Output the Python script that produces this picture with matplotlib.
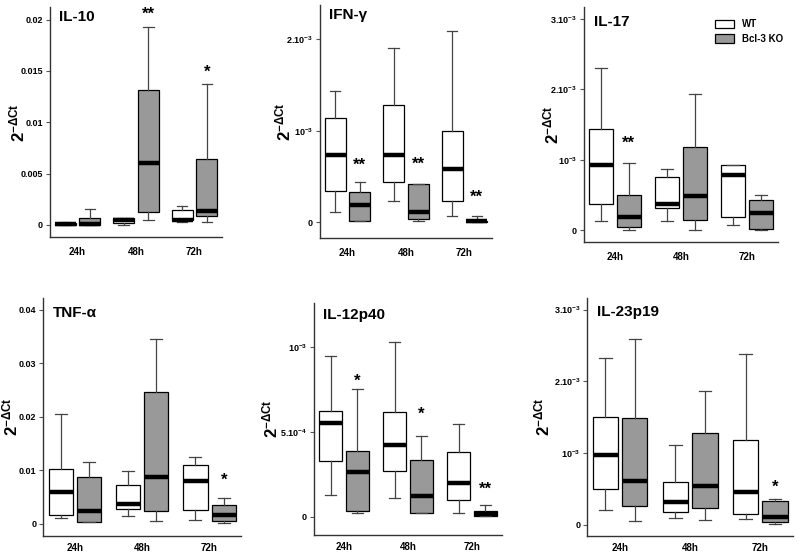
import matplotlib
matplotlib.use("Agg")
import matplotlib.pyplot as plt
from matplotlib.patches import Patch

plt.rcParams['font.family'] = ['Liberation Sans', 'DejaVu Sans']
plt.rcParams['font.weight'] = 'bold'
plt.rcParams['mathtext.fontset'] = 'custom'
plt.rcParams['mathtext.rm'] = 'Liberation Sans:bold'
plt.rcParams['mathtext.bf'] = 'Liberation Sans:bold'
plt.rcParams['mathtext.it'] = 'Liberation Sans:bold'

TIMES = ["24h", "48h", "72h"]
GROUPS = ["WT", "Bcl-3 KO"]

# each box: [whisker low, q1, median, q3, whisker high]
il10_wt = [[0.0, 0.00002, 0.0001, 0.0002, 0.0003],
           [0.0, 0.0002, 0.0005, 0.00065, 0.0007],
           [0.00026, 0.0005, 0.0005, 0.00146, 0.00185]]
il10_ko = [[0.0, 0.00002, 0.0001, 0.0007, 0.00155],
           [0.0005, 0.00126, 0.006, 0.0131, 0.0193],
           [0.00026, 0.0009, 0.0013, 0.0064, 0.0137]]

ifng_wt = [[0.11e-3, 0.34e-3, 0.73e-3, 1.14e-3, 1.43e-3],
           [0.23e-3, 0.44e-3, 0.74e-3, 1.28e-3, 1.90e-3],
           [0.07e-3, 0.23e-3, 0.58e-3, 1.00e-3, 2.09e-3]]
ifng_ko = [[0.02e-3, 0.02e-3, 0.19e-3, 0.33e-3, 0.435e-3],
           [0.015e-3, 0.04e-3, 0.11e-3, 0.42e-3, 0.42e-3],
           [0.0, 0.0, 0.01e-3, 0.02e-3, 0.065e-3]]

il17_wt = [[0.126e-3, 0.37e-3, 0.925e-3, 1.44e-3, 2.30e-3],
           [0.13e-3, 0.31e-3, 0.37e-3, 0.75e-3, 0.865e-3],
           [0.065e-3, 0.18e-3, 0.785e-3, 0.92e-3, 0.92e-3]]
il17_ko = [[0.0, 0.04e-3, 0.19e-3, 0.50e-3, 0.96e-3],
           [0.0, 0.14e-3, 0.49e-3, 1.18e-3, 1.93e-3],
           [0.0, 0.01e-3, 0.24e-3, 0.43e-3, 0.495e-3]]

tnfa_wt = [[0.0011, 0.0016, 0.006, 0.0102, 0.0205],
           [0.0014, 0.0028, 0.0037, 0.0072, 0.0099],
           [0.0008, 0.0027, 0.008, 0.0111, 0.0125]]
tnfa_ko = [[0.0003, 0.0004, 0.0024, 0.0088, 0.0116],
           [0.0006, 0.0024, 0.0088, 0.0246, 0.0345],
           [0.0001, 0.0006, 0.0016, 0.0036, 0.0049]]

il12_wt = [[0.13e-3, 0.326e-3, 0.552e-3, 0.62e-3, 0.943e-3],
           [0.11e-3, 0.267e-3, 0.42e-3, 0.613e-3, 1.03e-3],
           [0.024e-3, 0.098e-3, 0.20e-3, 0.383e-3, 0.546e-3]]
il12_ko = [[0.024e-3, 0.033e-3, 0.265e-3, 0.387e-3, 0.75e-3],
           [0.02e-3, 0.024e-3, 0.122e-3, 0.332e-3, 0.477e-3],
           [0.002e-3, 0.004e-3, 0.014e-3, 0.033e-3, 0.071e-3]]

il23_wt = [[0.20e-3, 0.49e-3, 0.966e-3, 1.50e-3, 2.32e-3],
           [0.098e-3, 0.182e-3, 0.322e-3, 0.588e-3, 1.115e-3],
           [0.075e-3, 0.154e-3, 0.453e-3, 1.176e-3, 2.38e-3]]
il23_ko = [[0.047e-3, 0.266e-3, 0.602e-3, 1.48e-3, 2.59e-3],
           [0.06e-3, 0.233e-3, 0.537e-3, 1.274e-3, 1.862e-3],
           [0.005e-3, 0.042e-3, 0.107e-3, 0.327e-3, 0.36e-3]]

# significance marks: (time index, label, y)
il10_stars = [(1, "**", 0.0205), (2, "*", 0.0149)]
ifng_stars = [(0, "**", 0.62e-3), (1, "**", 0.63e-3), (2, "**", 0.27e-3)]
il17_stars = [(0, "**", 1.23e-3)]
tnfa_stars = [(2, "*", 0.0081)]
il12_stars = [(0, "*", 0.795e-3), (1, "*", 0.605e-3), (2, "**", 0.161e-3)]
il23_stars = [(2, "*", 0.527e-3)]

il10_ticks = [0, 0.005, 0.01, 0.015, 0.02]
il10_labels = ["0", "0.005", "0.01", "0.015", "0.02"]
ifng_ticks = [0, 1e-3, 2e-3]
ifng_labels = ["0", r"$10^{-3}$", r"$2.10^{-3}$"]
il17_ticks = [0, 1e-3, 2e-3, 3e-3]
il17_labels = ["0", r"$10^{-3}$", r"$2.10^{-3}$", r"$3.10^{-3}$"]
tnfa_ticks = [0, 0.01, 0.02, 0.03, 0.04]
tnfa_labels = ["0", "0.01", "0.02", "0.03", "0.04"]
il12_ticks = [0, 5e-4, 1e-3]
il12_labels = ["0", r"$5.10^{-4}$", r"$10^{-3}$"]
il23_ticks = [0, 1e-3, 2e-3, 3e-3]
il23_labels = ["0", r"$10^{-3}$", r"$2.10^{-3}$", r"$3.10^{-3}$"]

KO_GREY = "#999999"
OFF = 0.21
WIDTH = 0.36


def to_stats(rows):
    return [dict(whislo=r[0], q1=r[1], med=r[2], q3=r[3], whishi=r[4], fliers=[])
            for r in rows]


def draw_panel(ax, title, wt, ko, stars, ticks, labels, ylim,
               ylab_px=33, title_px=10, xpad=7):
    for rows, off, fc in [(wt, -OFF, "white"), (ko, OFF, KO_GREY)]:
        ax.bxp(to_stats(rows), positions=[i + off for i in range(3)], widths=WIDTH,
               patch_artist=True, showfliers=False, capwidths=WIDTH * 0.5,
               boxprops=dict(facecolor=fc, edgecolor="black", linewidth=0.9),
               whiskerprops=dict(color="#444444", linewidth=0.9),
               capprops=dict(color="#444444", linewidth=0.9),
               medianprops=dict(color="black", linewidth=3.2, solid_capstyle="butt"))
    for i, s, y in stars:
        ax.text(i + OFF, y, s, ha="center", va="center", fontsize=12, fontweight="bold")
    ax.set_xlim(-0.47, 2.47)
    ax.set_ylim(*ylim)
    ax.set_xticks(range(3))
    ax.set_xticklabels(TIMES, fontsize=7, fontweight="bold")
    ax.tick_params(axis="x", length=0, pad=xpad)
    ax.set_yticks(ticks)
    ax.set_yticklabels(labels, fontsize=6.5, fontweight="bold")
    ax.tick_params(axis="y", length=3, width=0.8, color="#555555", pad=2)
    for sp in ["top", "right"]:
        ax.spines[sp].set_visible(False)
    for sp in ["left", "bottom"]:
        ax.spines[sp].set_color("#333333")
        ax.spines[sp].set_linewidth(1.0)
    bb = ax.get_position()
    w_px = bb.width * 800
    h_px = bb.height * 558
    ax.set_ylabel(r"$2^{-\Delta Ct}$", fontsize=12, va="center")
    ax.yaxis.set_label_coords(-ylab_px / w_px, 0.5)
    ax.text(0.05, 1 - title_px / h_px, title, transform=ax.transAxes, fontsize=11,
            fontweight="bold", va="center", ha="left")


fig = plt.figure(figsize=(8, 5.58), dpi=100)
ax1 = fig.add_axes([0.0625, 0.575, 0.215, 0.412])
ax2 = fig.add_axes([0.40, 0.5735, 0.215, 0.4176])
ax3 = fig.add_axes([0.73, 0.5663, 0.2425, 0.4211])
ax4 = fig.add_axes([0.054, 0.0394, 0.2475, 0.4265])
ax5 = fig.add_axes([0.3925, 0.0412, 0.235, 0.4158])
ax6 = fig.add_axes([0.734, 0.0394, 0.2575, 0.4265])

draw_panel(ax1, "IL-10", il10_wt, il10_ko, il10_stars, il10_ticks, il10_labels,
           (-0.0012, 0.0212), ylab_px=33, title_px=10)
draw_panel(ax2, "IFN-γ", ifng_wt, ifng_ko, ifng_stars, ifng_ticks, ifng_labels,
           (-0.17e-3, 2.37e-3), ylab_px=37, title_px=10)
draw_panel(ax3, "IL-17", il17_wt, il17_ko, il17_stars, il17_ticks, il17_labels,
           (-0.17e-3, 3.17e-3), ylab_px=33, title_px=15)
draw_panel(ax4, "TNF-α", tnfa_wt, tnfa_ko, tnfa_stars, tnfa_ticks, tnfa_labels,
           (-0.00225, 0.0422), ylab_px=33, title_px=15, xpad=5)
draw_panel(ax5, "IL-12p40", il12_wt, il12_ko, il12_stars, il12_ticks, il12_labels,
           (-0.108e-3, 1.257e-3), ylab_px=44, title_px=12, xpad=5)
draw_panel(ax6, "IL-23p19", il23_wt, il23_ko, il23_stars, il23_ticks, il23_labels,
           (-0.159e-3, 3.16e-3), ylab_px=45, title_px=14, xpad=5)

handles = [Patch(facecolor="white", edgecolor="black", linewidth=0.9),
           Patch(facecolor=KO_GREY, edgecolor="black", linewidth=0.9)]
ax3.legend(handles, GROUPS, loc="upper left", bbox_to_anchor=(0.63, 0.985), frameon=False,
           prop=dict(size=7, weight="bold"), handlelength=2.0, handleheight=1.0,
           labelspacing=0.5)

fig.savefig("out.png", dpi=100)
